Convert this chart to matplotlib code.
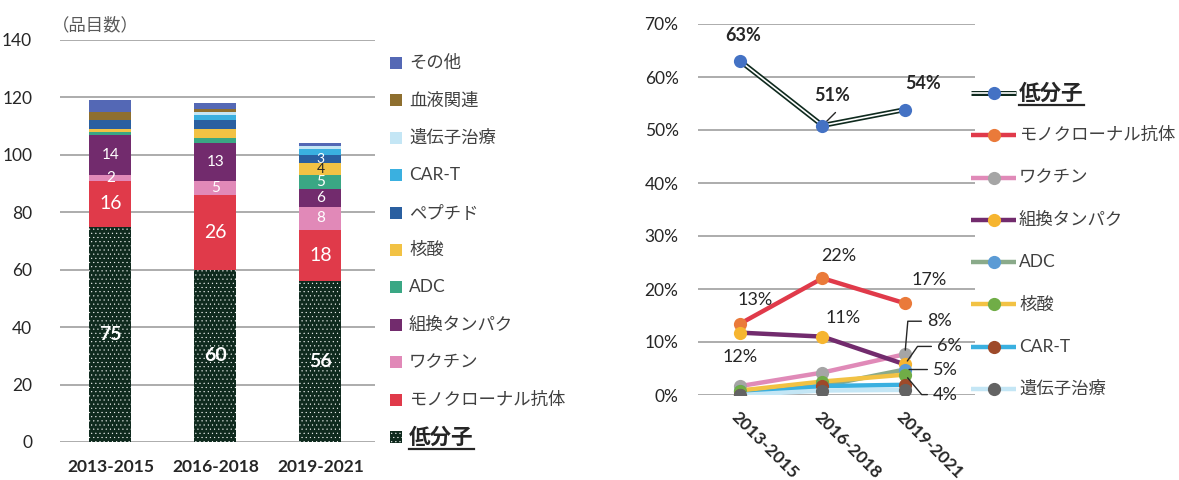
import matplotlib
matplotlib.use('Agg')
import matplotlib.pyplot as plt
import numpy as np
from matplotlib.patches import Rectangle
from matplotlib.lines import Line2D

plt.rcParams['font.family'] = ['Lato', 'Noto Sans CJK JP', 'DejaVu Sans']
plt.rcParams['hatch.color'] = 'white'
plt.rcParams['hatch.linewidth'] = 0.3

# ---------------- data ----------------
periods = ['2013-2015', '2016-2018', '2019-2021']
categories = ['低分子', 'モノクローナル抗体', 'ワクチン', '組換タンパク', 'ADC',
              '核酸', 'ペプチド', 'CAR-T', '遺伝子治療', '血液関連', 'その他']
small_molecule = [75, 60, 56]
monoclonal = [16, 26, 18]
vaccine = [2, 5, 8]
recombinant = [14, 13, 6]
adc = [1, 2, 5]
nucleic = [1, 3, 4]
peptide = [3, 3, 3]
car_t = [0, 2, 2]
gene_therapy = [0, 1, 1]
blood = [3, 1, 0]
other = [4, 2, 1]
bar_colors = ['#0f2a1e', '#e03a4a', '#e189b8', '#722b6d', '#3aa784', '#f2c244',
              '#2a5fa0', '#3ab0e0', '#c4e6f5', '#8e6f2f', '#5468b5']
# which bars carry a value label, per category
labelled_bars = {'低分子': [0, 1, 2], 'モノクローナル抗体': [0, 1, 2], 'ワクチン': [0, 1, 2],
                 '組換タンパク': [0, 1, 2], 'ADC': [2], '核酸': [2], 'ペプチド': [2]}

# line chart series (share of total, %)
line_series = ['低分子', 'モノクローナル抗体', 'ワクチン', '組換タンパク', 'ADC', '核酸', 'CAR-T', '遺伝子治療']
line_colors = ['#0f2a1e', '#e03a4a', '#e08ab8', '#722b6d', '#8aaa8a', '#f2c244', '#3ab0e0', '#c4e6f5']
marker_colors = ['#4472c4', '#ea7a3a', '#a5a5a5', '#f6b530', '#5b9bd5', '#70ad47', '#9e4a2a', '#636363']

counts = [small_molecule, monoclonal, vaccine, recombinant, adc, nucleic, peptide,
          car_t, gene_therapy, blood, other]
counts = np.array(counts, dtype=float)
totals = counts.sum(axis=0)
share = {c: counts[i] / totals * 100 for i, c in enumerate(categories)}

W, H = 1179, 480
fig = plt.figure(figsize=(W / 100, H / 100), dpi=100)


def fx(px):
    return px / W


def fy(py):
    return 1 - py / H


grid_c = '#a6a6a6'
txt_c = '#404040'

# ---------------- left stacked bar ----------------
ax = fig.add_axes([fx(60), fy(442), fx(375) - fx(60), fy(40) - fy(442)])
x = np.arange(len(periods))
bottom = np.zeros(len(periods))
for i, cat in enumerate(categories):
    vals = counts[i]
    if i == 0:
        ax.bar(x, vals, 0.4, bottom=bottom, color=bar_colors[i], hatch='....',
               edgecolor='white', linewidth=0, zorder=2)
    else:
        ax.bar(x, vals, 0.4, bottom=bottom, color=bar_colors[i], linewidth=0, zorder=2)
    for j in labelled_bars.get(cat, []):
        v = vals[j]
        yc = bottom[j] + v / 2
        if i == 0:
            ax.text(x[j], yc, f'{int(v)}', ha='center', va='center', color='white',
                    fontsize=14, fontweight='bold', zorder=3)
        elif i == 1:
            ax.text(x[j], yc, f'{int(v)}', ha='center', va='center', color='white',
                    fontsize=14, zorder=3)
        else:
            col = '#262626' if cat == '核酸' else 'white'
            fs = 10 if cat in ('核酸', 'ペプチド') else 11
            ax.text(x[j], yc, f'{int(v)}', ha='center', va='center', color=col,
                    fontsize=fs, zorder=3)
    bottom += vals

ax.set_xlim(-0.48, 2.52)
ax.set_ylim(0, 140)
ax.set_yticks(np.arange(0, 141, 20))
ax.yaxis.grid(True, color=grid_c, linewidth=1.3, zorder=0)
ax.set_axisbelow(True)
for s in ax.spines.values():
    s.set_visible(False)
ax.tick_params(axis='both', length=0, labelsize=12.5, colors='#262626')
ax.tick_params(axis='y', pad=20)
ax.set_xticks(x)
ax.set_xticklabels(periods, fontweight='bold', fontsize=12.5)
ax.tick_params(axis='x', pad=12)
fig.text(fx(52), fy(25), '（品目数）', ha='left', va='center', fontsize=12.5, color='#595959')

# left legend (manual, reversed stacking order)
leg_y = np.linspace(63, 437, len(categories))
for k, i in enumerate(range(len(categories) - 1, -1, -1)):
    yc = leg_y[k]
    rect = Rectangle((fx(390), fy(yc + 6)), fx(12), fy(yc - 6) - fy(yc + 6),
                     transform=fig.transFigure, facecolor=bar_colors[i],
                     hatch='....' if i == 0 else None, edgecolor='white', linewidth=0)
    fig.add_artist(rect)
    if i == 0:
        t = fig.text(fx(409), fy(yc), categories[i], ha='left', va='center', fontsize=15.5,
                     fontweight='bold', color='#262626')
        fig.canvas.draw()
        bb = t.get_window_extent(fig.canvas.get_renderer())
        fig.add_artist(Line2D([bb.x0 / W, bb.x1 / W], [fy(yc + 11.5)] * 2,
                              transform=fig.transFigure, color='#262626', linewidth=1.6))
    else:
        fig.text(fx(409), fy(yc), categories[i], ha='left', va='center', fontsize=12.5,
                 color=txt_c)

# ---------------- right line chart ----------------
ax2 = fig.add_axes([fx(698), fy(395), fx(975) - fx(698), fy(24) - fy(395)])
for k, cat in enumerate(line_series):
    y = share[cat]
    if k == 0:
        ax2.plot(x, y, color=line_colors[k], linewidth=3.6, zorder=3, solid_capstyle='butt')
        ax2.plot(x, y, color='white', linewidth=1.2, zorder=3.1, solid_capstyle='butt')
        ax2.plot(x, y, linestyle='none', marker='o', markersize=9.5, color=marker_colors[k],
                 markeredgewidth=0, zorder=3.2)
    else:
        ax2.plot(x, y, color=line_colors[k], linewidth=3.2, marker='o', markersize=9.5,
                 markerfacecolor=marker_colors[k], markeredgewidth=0, zorder=3 + k * 0.1)

ax2.set_xlim(-0.51, 2.85)
ax2.set_ylim(0, 70)
ax2.set_yticks(np.arange(0, 71, 10))
ax2.set_yticklabels([f'{v}%' for v in range(0, 71, 10)])
ax2.yaxis.grid(True, color=grid_c, linewidth=1.3, zorder=0)
ax2.set_axisbelow(True)
for s in ax2.spines.values():
    s.set_visible(False)
ax2.tick_params(axis='both', length=0, labelsize=12.5, colors='#262626')
ax2.tick_params(axis='y', pad=14)
ax2.set_xticks(x)
ax2.set_xticklabels(periods, fontweight='bold', fontsize=12.5, rotation=-45,
                    ha='left', va='top', rotation_mode='anchor')
ax2.tick_params(axis='x', pad=10)

# data labels (offset in pixels)
def lab(cat, j, dx, dy, bold=False, leader=None):
    v = share[cat][j]
    kw = dict(textcoords='offset pixels', fontsize=13, color='#262626',
              fontweight='bold' if bold else 'normal', zorder=5)
    if leader is None:
        ax2.annotate(f'{v:.0f}%', xy=(j, v), xytext=(dx, dy), ha='center', va='center', **kw)
    else:
        ax2.annotate(f'{v:.0f}%', xy=(j, v), xytext=(dx, dy), ha='left', va='center',
                     arrowprops=dict(arrowstyle='-', color='#262626', lw=1.0, shrinkA=2,
                                     shrinkB=3, connectionstyle=leader), **kw)

lab('低分子', 0, 3, 25, bold=True)
ax2.annotate('', xy=(1, share['低分子'][1]), xytext=(13, 13), textcoords='offset pixels',
             arrowprops=dict(arrowstyle='-', color='#262626', lw=1.0, shrinkA=0, shrinkB=2))
lab('低分子', 1, 10, 30, bold=True)
lab('低分子', 2, 18, 26, bold=True)
lab('モノクローナル抗体', 0, 15, 24)
lab('モノクローナル抗体', 1, 16, 22)
lab('モノクローナル抗体', 2, 24, 23)
lab('組換タンパク', 0, 0, -24)
lab('組換タンパク', 1, 21, 19)
lab('ワクチン', 2, 22, 33, leader='angle,angleA=0,angleB=85,rad=0')
lab('組換タンパク', 2, 32, 18, leader='angle,angleA=0,angleB=55,rad=0')
lab('ADC', 2, 28, 0, leader='arc3')
lab('核酸', 2, 28, -20, leader='angle,angleA=0,angleB=-50,rad=0')

# right legend (manual)
leg2_y = np.linspace(93, 389, len(line_series))
for k, cat in enumerate(line_series):
    yc = leg2_y[k]
    if k == 0:
        fig.add_artist(Line2D([fx(971), fx(1016)], [fy(yc)] * 2, transform=fig.transFigure,
                              color=line_colors[k], linewidth=3.6, solid_capstyle='butt'))
        fig.add_artist(Line2D([fx(971), fx(1016)], [fy(yc)] * 2, transform=fig.transFigure,
                              color='white', linewidth=1.2, solid_capstyle='butt'))
    else:
        fig.add_artist(Line2D([fx(971), fx(1016)], [fy(yc)] * 2, transform=fig.transFigure,
                              color=line_colors[k], linewidth=3.2, solid_capstyle='butt'))
    fig.add_artist(Line2D([fx(993.5)], [fy(yc)], transform=fig.transFigure, marker='o',
                          markersize=9.5, markerfacecolor=marker_colors[k], markeredgewidth=0,
                          linestyle='none'))
    if k == 0:
        t = fig.text(fx(1019), fy(yc), cat, ha='left', va='center', fontsize=15.5,
                     fontweight='bold', color='#262626')
        fig.canvas.draw()
        bb = t.get_window_extent(fig.canvas.get_renderer())
        fig.add_artist(Line2D([bb.x0 / W, bb.x1 / W], [fy(yc + 11.5)] * 2,
                              transform=fig.transFigure, color='#262626', linewidth=1.6))
    else:
        fig.text(fx(1019), fy(yc), cat, ha='left', va='center', fontsize=12.5, color=txt_c)

fig.savefig('out.png', dpi=100)
